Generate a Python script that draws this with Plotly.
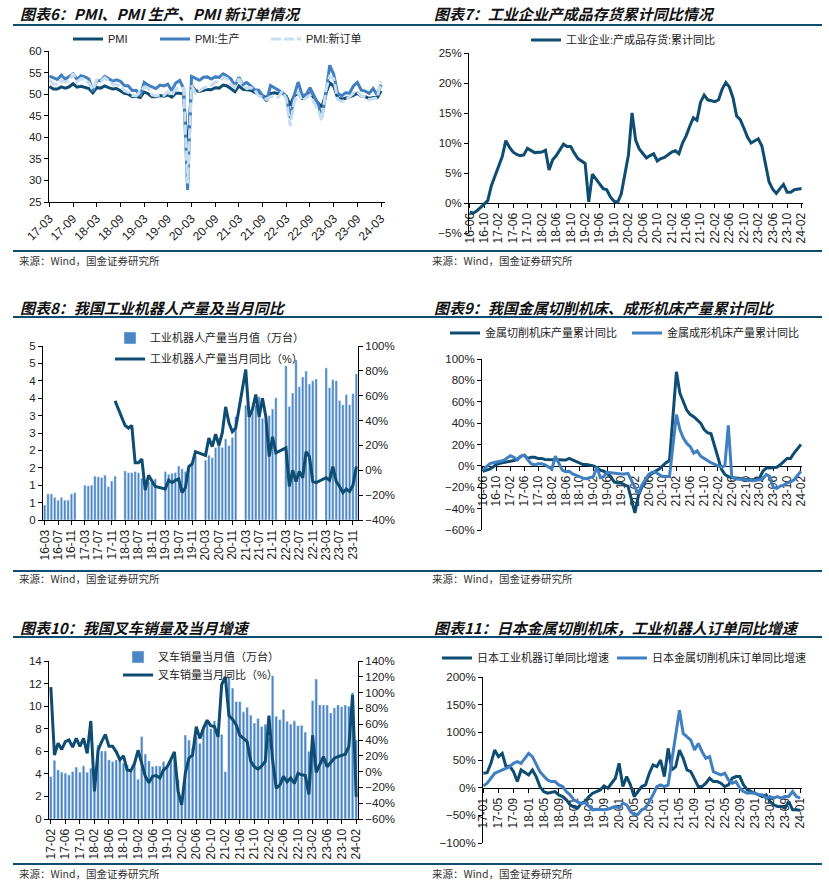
import plotly.graph_objects as go
import pandas as pd

W, H = 829, 889
FONT = "Liberation Sans, Arial, Noto Sans CJK SC"
CJK = "Noto Sans CJK SC"
DARK = "#0E4C72"
MID = "#3F7FC2"
LIGHT = "#C7DDF1"
BAR = "#4A86C6"


def months(start, n):
    return [p.strftime("%y-%m") for p in pd.period_range(start, periods=n, freq="M")]


# ---------------- 图表6 PMI ----------------
m6 = months("2017-03", 85)
pmi = [51.8, 51.2, 51.2, 51.7, 51.4, 51.7, 52.4, 51.6, 51.8, 51.6,
       51.3, 50.3, 51.5, 51.4, 51.9, 51.5, 51.2, 51.3, 50.8, 50.2, 50.0, 49.4,
       49.5, 49.2, 50.5, 50.1, 49.4, 49.4, 49.7, 49.5, 49.8, 49.3, 50.2, 50.2,
       50.0, 35.7, 52.0, 50.8, 50.6, 50.9, 51.1, 51.0, 51.5, 51.4, 52.1, 51.9,
       51.3, 50.6, 51.9, 51.1, 51.0, 50.9, 50.4, 50.1, 49.6, 49.2, 50.1, 50.3,
       50.1, 50.2, 49.5, 47.4, 49.6, 50.2, 49.0, 49.4, 50.1, 49.2, 48.0, 47.0,
       50.1, 52.6, 51.9, 49.2, 48.8, 49.0, 49.3, 49.7, 50.2, 49.5, 49.4, 49.0,
       49.2, 49.1, 50.8]
pmi_prod = [54.2, 53.8, 53.4, 54.4, 53.5, 54.1, 54.7, 53.4, 54.3, 54.0,
            53.5, 50.7, 53.1, 53.1, 54.1, 53.6, 53.0, 53.3, 53.0, 52.0, 51.9, 50.8,
            50.9, 49.5, 52.7, 52.1, 51.7, 51.3, 52.1, 51.9, 52.3, 50.8, 52.6, 53.2,
            51.3, 27.8, 54.1, 53.7, 53.2, 53.9, 54.0, 53.5, 54.0, 53.9, 54.7, 54.2,
            53.5, 51.9, 53.9, 52.2, 52.7, 51.9, 51.0, 50.9, 49.5, 48.4, 52.0, 51.4,
            50.9, 50.4, 49.5, 44.4, 49.7, 52.8, 49.8, 49.8, 51.5, 49.6, 47.8, 44.6,
            49.8, 56.7, 54.6, 50.2, 49.6, 50.3, 50.2, 51.9, 52.7, 50.9, 50.7, 50.2,
            51.3, 49.8, 52.2]
pmi_order = [53.3, 52.3, 52.3, 53.1, 52.8, 53.1, 54.8, 52.9, 53.6, 53.4,
             52.6, 51.0, 53.3, 52.9, 53.8, 53.2, 52.3, 52.2, 52.0, 50.8, 50.4, 49.7,
             49.6, 50.6, 51.6, 51.4, 49.8, 49.6, 49.8, 49.7, 50.5, 49.6, 51.3, 51.2,
             51.4, 29.3, 52.0, 50.2, 50.9, 51.4, 51.7, 52.0, 52.8, 52.8, 53.9, 53.6,
             52.3, 51.5, 53.6, 52.0, 51.3, 51.5, 50.9, 49.6, 49.3, 48.8, 49.4, 49.7,
             49.3, 50.7, 48.8, 42.6, 48.2, 50.4, 48.5, 49.2, 49.8, 48.1, 46.4, 43.9,
             50.9, 54.1, 53.6, 48.8, 48.3, 48.6, 49.5, 50.2, 50.5, 49.5, 49.4, 48.7,
             49.0, 49.0, 53.0]

# ---------------- 图表7 产成品存货 ----------------
m7 = months("2016-06", 93)
inv = [-1.5, -1.7, -1.3, -0.7, -0.2, 0.4, 2.9,
       None, 6.0, 7.7, 10.4, 9.3, 8.5, 8.1, 7.9, 8.0, 9.1, 8.8, 8.4,
       None, 8.5, 8.8, 5.5, 7.2, 7.9, 8.9, 9.8, 9.4, 9.4, 8.3, 7.4,
       None, 6.6, 0.2, 4.8, 4.0, 3.3, 2.4, 2.2, 1.0, 0.3, 0.1, 1.5,
       None, 8.0, 15.0, 10.5, 9.0, 8.3, 7.5, 7.9, 8.2, 7.0, 7.4, 7.6,
       None, 8.5, 8.7, 8.2, 10.0, 11.2, 12.8, 14.2, 13.8, 16.8, 18.0, 17.2,
       None, 16.9, 17.2, 19.0, 20.1, 19.3, 17.5, 14.5, 13.9, 12.5, 11.0, 10.0,
       None, 10.7, 9.5, 6.5, 3.5, 2.3, 1.6, 2.4, 3.1, 1.8, 1.8, 2.2,
       None, 2.4]

# ---------------- 图表8 工业机器人 ----------------
m8 = months("2016-03", 94)
robot_qty = [0.43, 0.75, 0.75, 0.65, 0.57, 0.65, 0.57, 0.57, 0.75, 0.79,
             None, None, 1.0, 0.98, 1.0, 1.26, 1.24, 1.22, 1.29, 0.96, 1.12, 1.26,
             None, None, 1.41, 1.36, 1.36, 1.39, 1.36, 1.2, 1.15, 1.1, 1.15, 1.18,
             None, None, 1.39, 1.31, 1.34, 1.36, 1.55, 1.47, 1.39, 1.5, 1.6, 1.85,
             None, None, 1.72, 1.86, 1.79, 2.08, 2.35, 2.08, 2.33, 2.14, 2.37, 2.97,
             None, None, 3.30, 2.97, 3.2, 3.3, 3.54, 2.92, 2.85, 3.0, 3.19, 3.51,
             None, None, 4.43, 3.26, 3.65, 4.6, 3.83, 4.11, 4.28, 3.91, 4.0, 4.05,
             None, None, 4.37, 3.80, 4.03, 4.0, 3.43, 3.31, 3.6, 3.31, 3.63, 4.2]
robot_yoy = [None] * 10 + [None] * 11 + [55.8,
             None, None, 36, 34, 36, 6, 6, 9, -16, -4, -9, -13,
             None, None, -15, -8, -10, -8, -7, -18, -14, 3, 5, 15,
             None, None, 12, 26, 19, 29, 20, 30, 51, 38, 31, 34,
             None, None, 81, 43, 49, 61, 43, 58, 43, 11, 27, 14,
             None, None, 18, -13, 0, -9, -1, -6, 15, 11, -9, -10,
             None, None, -6, -8, 3, -9, -13, -18, -15, -17, -12, 3]
robot_left_ticks = ["0", "1", "1", "2", "2", "3", "3", "4", "4", "5", "5"]

# ---------------- 图表9 机床 ----------------
m9 = months("2016-06", 93)
cutting = [-5, -4, -3, -1, 1.5, 2.5, 3,
           None, 4, 5, 6, 9, 10, 7, 8, 8, 7, 7, 6,
           None, 6, 6, 5.5, 5.5, 5.5, 7, 5.5, 4, 2, 1.2, 1.2,
           None, 0, -1.5, -4, -5, -7, -10, -15, -16, -16, -18, -19,
           None, -44, -28, -20, -14, -9, -7, -5, -3, 0, 3, 5,
           None, 88, 68, 60, 52, 48, 46, 43, 40, 34, 31, 30,
           None, 8, -3, -8, -10, -11, -11, -11.5, -12.5, -13, -13, -13,
           None, -11.5, -5, -2, -2, -2, -1.3, 1, 4, 7, 7, 12,
           None, 20]
forming = [-4, -1, 2, 3, 3.5, 4, 5,
           None, 9.5, 8, 5.5, 9, 10, 5.5, 2, 1, 2, 2, 1,
           None, -3, 9, 2.5, -4, -5.5, -5, -7.5, -8.5, -10, -11.5, -12,
           None, -10, -1, -11, -10, -6, -6.5, -7, -7.5, -7.5, -7.5, -7,
           None, -20, -26, -18, -13, -8, -6, -6, -8, -10, -10, -10,
           None, 48, 34, 26, 21, 18, 12, 14, 9, 7, 5, 3,
           None, 0, -1, 0, 38, -10, -12, -12.5, -13, -13.5, -14, -14,
           None, -13, -12, -8, -10, -20, -21, -19, -18, -16, -15, -13,
           None, -5]

# ---------------- 图表10 叉车 ----------------
m10 = months("2017-02", 85)
fork_qty = [3.76, 5.2, 4.35, 4.15, 4.06, 3.9, 4.2, 4.6, 4.15, 4.7, 4.15,
            4.5, 2.8, 6.56, 6.03, 6.03, 5.24, 5.09, 5.24, 5.3, 4.94, 4.8, 4.2,
            4.9, 3.53, 7.3, 5.76, 5.15, 4.65, 4.7, 4.7, 5.1, 4.65, 5.2, 5.3,
            3.47, 1.9, 7.44, 7.0, 6.3, 7.3, 6.7, 7.9, 8.6, 8.0, 8.7, 7.5,
            7.5, 4.2, 12.6, 11.6, 10.4, 10.4, 9.5, 9.9, 9.2, 8.5, 8.9, 8.2,
            8.4, 7.2, 12.7, 9.1, 8.8, 9.7, 8.65, 8.4, 8.7, 8.26, 8.3, 7.7,
            6.0, 10.5, 12.4, 10.1, 10.1, 10.1, 9.4, 9.85, 10.1, 9.95, 10.1, 10.0,
            11.2, 7.0]
fork_yoy = [107, 21, 36, 28, 38, 40, 31, 42, 32, 42, 23,
            64, -25, 27, 38, 47, 32, 32, 25, 15, 20, 2, 1,
            10, 27, 10, -6, -14, -6, -5, -8, 2, 6, 15, 25,
            -25, -42, -2, 17, 21, 57, 42, 55, 65, 58, 57, 44,
            110, 120, 71, 66, 59, 46, 42, 38, 13, 6, 3, 7,
            13, 71, 15, -21, -17, -6, -13, -8, -15, -2, -4, -5,
            -29, 46, -1, 8, 19, 6, 11, 17, 19, 21, 22, 32,
            97, -32]

# ---------------- 图表11 日本订单 ----------------
m11 = months("2017-01", 85)
jp_robot = [26, 27, 44, 68, 56, 62, 38, 39, 29, 11, 32, 27,
            23, 32, 20, 2, -7, -10, -9, -7, -13, -16, -22, -31,
            -35, -37, -28, -25, -16, -10, -7, -4, 3, -1, 8, 17,
            44, 2, 20, 5, -16, -7, 2, 5, 26, 41, 38, 50,
            20, 71, 32, 38, 68, 53, 32, 29, 14, 2, 2, 8,
            17, 11, 11, 8, 2, 5, 17, 20, 20, 5, -4, -7,
            -10, -13, -16, -13, -25, -31, -34, -34, -37, -25, -40, -40,
            -41]
jp_tool = [3, 8, 17, 26, 29, 32, 35, 38, 44, 47, 44, 53,
           62, 56, 41, 29, 21, 14, 11, 11, 5, 2, -7, -13,
           -22, -25, -29, -27, -34, -40, -39, -40, -40, -39, -37, -34,
           -37, -28, -31, -43, -49, -48, -40, -37, -25, -13, 2, 5,
           2, 5, 50, 92, 140, 98, 92, 86, 68, 80, 65, 53,
           56, 29, 26, 23, 26, 14, 8, 11, -1, -7, -10, -9,
           -10, -13, -13, -19, -16, -19, -16, -19, -16, -16, -7, -16,
           -19]


def px(x):
    return x / W


def py(y):
    return 1 - y / H


xtickfont = dict(size=12, color="#222", family=FONT)
ytickfont = dict(size=11.5, color="#222", family=FONT)


def xax(domain, n_range, tickvals, angle, anchor, position=None, layer="above traces"):
    d = dict(domain=[px(domain[0]), px(domain[1])], type="category", range=n_range,
             tickmode="array", tickvals=tickvals, tickangle=angle, ticks="outside",
             ticklen=4, tickcolor="#000", showline=True, linecolor="#000", linewidth=1,
             showgrid=False, zeroline=False, tickfont=xtickfont, layer=layer)
    if position is None:
        d["anchor"] = anchor
    else:
        d["anchor"] = "free"
        d["position"] = position
    return d


def yax(domain, rng, dtick, anchor, suffix="", side="left", overlaying=None):
    d = dict(domain=[py(domain[1]), py(domain[0])], range=rng, dtick=dtick, tick0=rng[0],
             ticks="outside", ticklen=4, tickcolor="#000", showline=True, linecolor="#000",
             linewidth=1, showgrid=False, zeroline=False, tickfont=ytickfont,
             ticksuffix=suffix, anchor=anchor, side=side)
    if overlaying:
        d["overlaying"] = overlaying
    return d


def leg(text_x, y):
    # legend item text starts ~40px right of the legend's left edge
    return dict(x=px(text_x - 40), y=py(y), xanchor="left", yanchor="middle", orientation="h",
                bgcolor="rgba(0,0,0,0)", font=dict(size=11, color="#222", family=FONT),
                itemwidth=30, borderwidth=0)


fig = go.Figure()

# Panel 6
fig.add_trace(go.Scatter(x=m6, y=pmi, name="PMI", mode="lines", line=dict(color=DARK, width=3),
                         xaxis="x", yaxis="y", legend="legend"))
fig.add_trace(go.Scatter(x=m6, y=pmi_prod, name="PMI:生产", mode="lines", line=dict(color=MID, width=3),
                         xaxis="x", yaxis="y", legend="legend2"))
fig.add_trace(go.Scatter(x=m6, y=pmi_order, name="PMI:新订单", mode="lines",
                         line=dict(color=LIGHT, width=3, dash="10px,3px"),
                         xaxis="x", yaxis="y", legend="legend3"))
# Panel 7
fig.add_trace(go.Scatter(x=m7, y=inv, name="工业企业:产成品存货:累计同比", mode="lines",
                         connectgaps=True, line=dict(color=DARK, width=3),
                         xaxis="x2", yaxis="y2", legend="legend4"))
# Panel 8
fig.add_trace(go.Bar(x=m8, y=robot_qty, name="工业机器人产量当月值（万台）", marker_color=BAR,
                     xaxis="x3", yaxis="y3", legend="legend5"))
fig.add_trace(go.Scatter(x=m8, y=robot_yoy, name="工业机器人产量当月同比（%）", mode="lines",
                         connectgaps=True, line=dict(color=DARK, width=3),
                         xaxis="x3", yaxis="y4", legend="legend6"))
# Panel 9
fig.add_trace(go.Scatter(x=m9, y=cutting, name="金属切削机床产量累计同比", mode="lines",
                         connectgaps=True, line=dict(color=DARK, width=3),
                         xaxis="x4", yaxis="y5", legend="legend7"))
fig.add_trace(go.Scatter(x=m9, y=forming, name="金属成形机床产量累计同比", mode="lines",
                         connectgaps=True, line=dict(color=MID, width=3),
                         xaxis="x4", yaxis="y5", legend="legend8"))
# Panel 10
fig.add_trace(go.Bar(x=m10, y=fork_qty, name="叉车销量当月值（万台）", marker_color=BAR,
                     xaxis="x5", yaxis="y6", legend="legend9"))
fig.add_trace(go.Scatter(x=m10, y=fork_yoy, name="叉车销量当月同比（%）", mode="lines",
                         line=dict(color=DARK, width=3),
                         xaxis="x5", yaxis="y7", legend="legend10"))
# Panel 11
fig.add_trace(go.Scatter(x=m11, y=jp_robot, name="日本工业机器订单同比增速", mode="lines",
                         line=dict(color=DARK, width=3),
                         xaxis="x6", yaxis="y8", legend="legend11"))
fig.add_trace(go.Scatter(x=m11, y=jp_tool, name="日本金属切削机床订单同比增速", mode="lines",
                         line=dict(color=MID, width=3),
                         xaxis="x6", yaxis="y8", legend="legend12"))

layout = dict(
    width=W, height=H, margin=dict(l=0, r=0, t=0, b=0, pad=0, autoexpand=False),
    paper_bgcolor="white", plot_bgcolor="rgba(0,0,0,0)",
    font=dict(family=FONT, size=11, color="#222"),
    showlegend=True,
    bargap=0.3,
    xaxis=xax((49, 385), [-0.1, 85], m6[::6], -45, "y"),
    yaxis=yax((51, 202), [25, 60], 5, "x"),
    xaxis2=xax((469, 803), [-0.2, 92.4], m7[::4], -90, None, position=py(203), layer="below traces"),
    yaxis2=yax((53, 233), [-5, 25], 5, "x2", suffix="%"),
    xaxis3=xax((43, 358), [-0.5, 93.5], m8[::4], -90, "y3"),
    yaxis3=dict(yax((346, 520), [0, 5], 0.5, "x3"), tickmode="array",
                tickvals=[i * 0.5 for i in range(11)], ticktext=robot_left_ticks),
    yaxis4=yax((346, 520), [-40, 100], 20, "x3", suffix="%", side="right", overlaying="y3"),
    xaxis4=xax((482, 802), [-0.2, 92.3], m9[::4], -90, None, position=py(466), layer="below traces"),
    yaxis5=yax((359, 530), [-60, 100], 20, "x4", suffix="%"),
    xaxis5=xax((49, 358), [-0.5, 84.5], m10[::4], -90, "y6"),
    yaxis6=yax((661, 819), [0, 14], 2, "x5"),
    yaxis7=yax((661, 819), [-60, 140], 20, "x5", suffix="%", side="right", overlaying="y6"),
    xaxis6=xax((483, 802), [-0.1, 84.5], m11[::4], -90, None, position=py(788), layer="below traces"),
    yaxis8=yax((677, 843), [-100, 200], 50, "x6", suffix="%"),
    legend=leg(108, 39), legend2=leg(195, 39), legend3=leg(306, 39),
    legend4=leg(566, 40),
    legend5=leg(150, 338), legend6=leg(150, 359),
    legend7=leg(485, 333), legend8=leg(667, 333),
    legend9=leg(158, 657), legend10=leg(158, 675),
    legend11=leg(477, 658), legend12=leg(652, 658),
)
fig.update_layout(**layout)

# separator lines
for yline in (25, 251, 317, 571, 637, 864):
    fig.add_shape(type="line", xref="paper", yref="paper", x0=px(13), x1=px(822),
                  y0=py(yline), y1=py(yline), line=dict(color=DARK, width=2))

titles = [
    (18, 14, "图表6：PMI、PMI 生产、PMI 新订单情况"),
    (432, 14, "图表7：工业企业产成品存货累计同比情况"),
    (18, 307, "图表8：我国工业机器人产量及当月同比"),
    (432, 307, "图表9：我国金属切削机床、成形机床产量累计同比"),
    (18, 627, "图表10：我国叉车销量及当月增速"),
    (432, 627, "图表11：日本金属切削机床，工业机器人订单同比增速"),
]
for x, y, t in titles:
    fig.add_annotation(x=px(x), y=py(y), xref="paper", yref="paper", xanchor="left", yanchor="middle",
                       text="<b><i>" + t + "</i></b>", showarrow=False,
                       font=dict(size=15, color="#111", family=CJK))

for x, y in ((17, 260), (430, 260), (17, 578), (430, 578), (17, 873), (430, 873)):
    fig.add_annotation(x=px(x), y=py(y), xref="paper", yref="paper", xanchor="left", yanchor="middle",
                       text="来源：Wind，国金证券研究所", showarrow=False,
                       font=dict(size=10.5, color="#333", family=CJK))

fig.write_html("out.html",
               config={"displayModeBar": False},
               post_script="document.body.style.margin='0';document.body.style.padding='0';")
